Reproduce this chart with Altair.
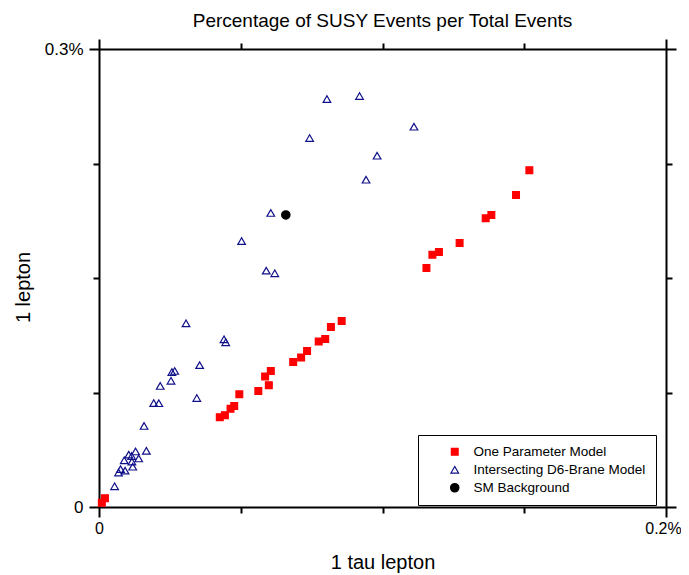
import altair as alt
import pandas as pd

series_names = ["One Parameter Model", "Intersecting D6-Brane Model", "SM Background"]

# One Parameter Model (red squares): x = 1 tau lepton (%), y = 1 lepton (%)
one_param_x = [0.0010, 0.0021, 0.0426, 0.0444, 0.0464, 0.0477, 0.0495, 0.0562, 0.0599,
               0.0586, 0.0606, 0.0685, 0.0713, 0.0734, 0.0775, 0.0798, 0.0818, 0.0856,
               0.1155, 0.1176, 0.1199, 0.1272, 0.1364, 0.1384, 0.1471, 0.1518]
one_param_y = [0.0028, 0.0057, 0.0588, 0.0601, 0.0644, 0.0662, 0.0738, 0.0760, 0.0798,
               0.0855, 0.0891, 0.0950, 0.0979, 0.1022, 0.1084, 0.1100, 0.1179, 0.1218,
               0.1565, 0.1653, 0.1670, 0.1729, 0.1891, 0.1913, 0.2044, 0.2206]

# Intersecting D6-Brane Model (blue open triangles)
d6_x = [0.0804, 0.0919, 0.1111, 0.0743, 0.0981, 0.0942, 0.0606, 0.0503, 0.0590, 0.0620,
        0.0307, 0.0441, 0.0447, 0.0355, 0.0257, 0.0267, 0.0254, 0.0216, 0.0345, 0.0193,
        0.0211, 0.0159, 0.0167, 0.0129, 0.0105, 0.0140, 0.0115, 0.0089, 0.0116, 0.0119,
        0.0076, 0.0092, 0.0069, 0.0055]
d6_y = [0.2672, 0.2692, 0.2491, 0.2417, 0.2301, 0.2144, 0.1926, 0.1742, 0.1548, 0.1531,
        0.1203, 0.1098, 0.1079, 0.0929, 0.0884, 0.0891, 0.0827, 0.0793, 0.0714, 0.0681,
        0.0680, 0.0531, 0.0368, 0.0364, 0.0343, 0.0318, 0.0334, 0.0306, 0.0297, 0.0264,
        0.0248, 0.0238, 0.0226, 0.0136]

# SM Background (black circle)
sm_x = [0.0659]
sm_y = [0.1913]

x_ticks = [0, 0.05, 0.1, 0.15, 0.2]
y_ticks = [0, 0.075, 0.15, 0.225, 0.3]

rows = []
for xs, ys, name in [(one_param_x, one_param_y, series_names[0]),
                     (d6_x, d6_y, series_names[1]),
                     (sm_x, sm_y, series_names[2])]:
    for a, b in zip(xs, ys):
        rows.append({"x": a, "y": b, "series": name})
df = pd.DataFrame(rows)

FONT = "Liberation Sans"

xscale = alt.Scale(domain=[0, 0.2], nice=False, zero=False)
yscale = alt.Scale(domain=[0, 0.3], nice=False, zero=False)

x_tick_size = {"condition": {"test": "datum.value < 0.001 || datum.value > 0.199", "value": 10}, "value": 6}
y_tick_size = {"condition": {"test": "datum.value < 0.001 || datum.value > 0.299", "value": 10}, "value": 6}

x_axis = alt.Axis(
    values=x_ticks, title="1 tau lepton", orient="bottom",
    labelExpr="datum.value < 0.001 ? '0' : (datum.value > 0.199 ? '0.2%' : '')",
    labelOffset={"condition": {"test": "datum.value > 0.199", "value": -3}, "value": 0},
    tickSize=x_tick_size, labelPadding=3, titlePadding=16,
    labelFontSize=16, titleFontSize=20, labelFlush=False, labelOverlap=False,
)
y_axis = alt.Axis(
    values=y_ticks, title="1 lepton", orient="left",
    labelExpr="datum.value < 0.001 ? '0' : (datum.value > 0.299 ? '0.3%' : '')",
    tickSize=y_tick_size, labelPadding=6, titlePadding=11, titleY=238,
    labelFontSize=17, titleFontSize=20, labelFlush=False, labelOverlap=False,
)
x_axis_top = alt.Axis(values=x_ticks, orient="top", labels=False, title=None,
                      tickSize=x_tick_size)
y_axis_right = alt.Axis(values=y_ticks, orient="right", labels=False, title=None,
                        tickSize=y_tick_size)

legend = alt.Legend(
    title=None, orient="none", legendX=319, legendY=386,
    strokeColor="black", fillColor="white", padding=10,
    symbolOffset=20, labelOffset=12, rowPadding=3, labelLimit=400,
    labelFont=FONT, labelFontSize=13.5, labelColor="black",
    symbolStrokeWidth=1.2,
)

points = alt.Chart(df).mark_point(filled=True, opacity=1, strokeWidth=1.2).encode(
    x=alt.X("x:Q", scale=xscale, axis=x_axis),
    y=alt.Y("y:Q", scale=yscale, axis=y_axis),
    fill=alt.Fill("series:N", scale=alt.Scale(domain=series_names,
                  range=["#ff0000", "transparent", "#000000"]), legend=legend),
    stroke=alt.Stroke("series:N", scale=alt.Scale(domain=series_names,
                      range=["#ff0000", "#10108a", "#000000"]), legend=legend),
    shape=alt.Shape("series:N", scale=alt.Scale(domain=series_names,
                    range=["square", "triangle-up", "circle"]), legend=legend),
    size=alt.Size("series:N", scale=alt.Scale(domain=series_names,
                  range=[46, 70, 120]), legend=legend),
)

frame = alt.Chart(df).mark_point(opacity=0).encode(
    x=alt.X("x:Q", scale=xscale, axis=x_axis_top),
    y=alt.Y("y:Q", scale=yscale, axis=y_axis_right),
)

chart = alt.layer(points, frame).resolve_axis(
    x="independent", y="independent"
).properties(
    width=567, height=458,
    padding={"left": 91, "top": 41, "right": 15, "bottom": 68},
    autosize=alt.AutoSizeParams(type="none"),
    title=alt.TitleParams(
        "Percentage of SUSY Events per Total Events",
        fontSize=19, font=FONT, fontWeight="normal", color="black",
        anchor="middle", offset=7,
    ),
).configure_view(stroke=None).configure_axis(
    grid=False, domainColor="black", domainWidth=2, tickColor="black", tickWidth=2,
    labelFont=FONT, titleFont=FONT, labelColor="black", titleColor="black",
    titleFontWeight="normal",
)

chart.save("out.html", embed_options={"renderer": "svg", "actions": False})
